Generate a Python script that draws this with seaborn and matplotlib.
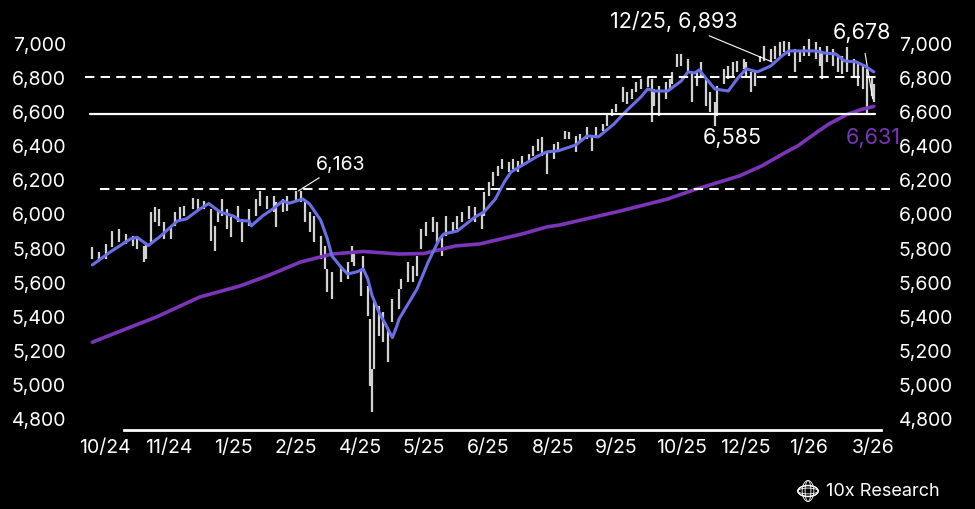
import matplotlib
matplotlib.use("Agg")
import matplotlib.pyplot as plt
import matplotlib.patches as mpatches
import seaborn as sns
import pandas as pd

# trading-day index, daily high / low
bar_day = [1, 4, 7, 10, 13, 16, 19, 21, 24, 25, 27, 29, 31, 33, 36, 38, 40, 42, 46, 48,
           51, 54, 56, 57, 59, 61, 63, 66, 68, 71, 74, 76, 79, 82, 83, 86, 88, 92, 94, 96,
           98, 100, 103, 105, 106, 108, 112, 115, 117, 118, 121, 122, 124, 125, 126, 127, 129, 131, 133, 135,
           138, 139, 142, 144, 146, 148, 150, 153, 155, 157, 159, 162, 164, 166, 169, 172, 175, 176, 178, 180,
           182, 184, 187, 189, 191, 193, 196, 198, 200, 202, 204, 207, 209, 212, 214, 217, 219, 222, 224, 226,
           229, 231, 233, 235, 238, 240, 242, 244, 246, 249, 251, 252, 254, 257, 259, 260, 262, 264, 267, 269,
           271, 273, 275, 277, 279, 280, 283, 285, 287, 289, 292, 293, 295, 297, 299, 301, 304, 306, 308, 310,
           312, 315, 317, 319, 321, 324, 326, 327, 329, 332, 334, 336, 338, 341, 343, 345, 347, 349, 350]
bar_high = [5804, 5774, 5821, 5897, 5909, 5880, 5868, 5850, 5809, 5821, 6009, 6038, 6026, 5950, 5927, 6009, 6038, 6044, 6091, 6085,
            6073, 6026, 5927, 6026, 6085, 6026, 5980, 6044, 5968, 6026, 6085, 6132, 6103, 6103, 6067, 6085, 6103, 6132, 6132, 6067,
            6009, 5985, 5868, 5809, 5674, 5657, 5692, 5715, 5809, 5774, 5674, 5751, 5575, 5381, 5088, 5481, 5458, 5422, 5323, 5499,
            5557, 5616, 5715, 5692, 5751, 5909, 5950, 5980, 5950, 5868, 5985, 5950, 5985, 6009, 6044, 6038, 6009, 6126, 6185, 6243,
            6279, 6320, 6302, 6320, 6308, 6337, 6349, 6396, 6437, 6449, 6361, 6408, 6419, 6484, 6478, 6455, 6466, 6507, 6455, 6507,
            6525, 6584, 6613, 6642, 6742, 6713, 6730, 6771, 6789, 6801, 6789, 6730, 6748, 6771, 6789, 6830, 6935, 6935, 6906, 6830,
            6836, 6889, 6789, 6713, 6654, 6748, 6848, 6865, 6889, 6894, 6906, 6889, 6830, 6836, 6924, 6982, 6965, 6982, 7006, 7012,
            7006, 6965, 6953, 6982, 7023, 7006, 6976, 6947, 6982, 6965, 6924, 6924, 6976, 6906, 6889, 6865, 6848, 6806, 6760]
bar_low = [5733, 5721, 5733, 5804, 5833, 5821, 5809, 5792, 5715, 5733, 5833, 5950, 5927, 5850, 5850, 5927, 5968, 5985, 6026, 6026,
           6026, 5839, 5780, 5950, 5985, 5909, 5862, 5950, 5833, 5927, 5985, 6044, 6026, 6009, 5921, 6009, 6015, 6067, 6067, 5950,
           5891, 5833, 5733, 5674, 5540, 5499, 5598, 5616, 5715, 5692, 5516, 5674, 5399, 4988, 4835, 5088, 5282, 5247, 5129, 5364,
           5440, 5557, 5598, 5598, 5633, 5792, 5868, 5891, 5833, 5751, 5868, 5891, 5909, 5950, 5968, 5950, 5909, 5985, 6103, 6161,
           6220, 6261, 6243, 6261, 6243, 6279, 6308, 6337, 6367, 6337, 6232, 6320, 6361, 6437, 6437, 6361, 6419, 6437, 6367, 6455,
           6484, 6513, 6572, 6595, 6654, 6642, 6672, 6713, 6730, 6742, 6537, 6630, 6572, 6672, 6730, 6760, 6859, 6865, 6836, 6654,
           6748, 6806, 6630, 6595, 6513, 6572, 6760, 6789, 6806, 6830, 6848, 6806, 6713, 6748, 6889, 6894, 6889, 6906, 6924, 6947,
           6924, 6830, 6889, 6924, 6924, 6906, 6865, 6789, 6889, 6865, 6830, 6818, 6830, 6806, 6748, 6730, 6585, 6689, 6654]

# short moving average (blue)
ma_short_day = [1, 9, 18, 21, 26, 31, 39, 43, 49, 53, 58, 64, 67, 71, 72, 77, 82, 86, 89, 95,
                98, 103, 106, 108, 112, 115, 119, 122, 124, 126, 129, 133, 135, 137, 138, 146, 151, 156, 158, 164,
                172, 176, 181, 185, 188, 194, 200, 204, 209, 217, 222, 227, 234, 239, 246, 249, 252, 258, 264, 267,
                270, 272, 276, 279, 285, 289, 293, 298, 304, 309, 312, 318, 324, 328, 333, 337, 342, 346, 350]
ma_short = [5698, 5774, 5850, 5860, 5812, 5862, 5956, 5968, 6026, 6058, 6009, 5985, 5958, 5956, 5927, 5985, 6030, 6073, 6060, 6085,
            6056, 5960, 5850, 5751, 5686, 5645, 5657, 5674, 5616, 5516, 5422, 5323, 5272, 5340, 5381, 5557, 5715, 5850, 5880, 5897,
            5980, 6009, 6085, 6185, 6243, 6290, 6337, 6361, 6367, 6402, 6455, 6449, 6525, 6595, 6683, 6730, 6718, 6718, 6777, 6830,
            6824, 6842, 6777, 6730, 6718, 6789, 6848, 6830, 6865, 6924, 6953, 6953, 6953, 6941, 6935, 6894, 6889, 6865, 6830]

# long moving average (purple)
ma_long_day = [1, 30, 49, 67, 79, 94, 108, 122, 138, 149, 163, 174, 193, 204, 210, 237, 258, 271, 290, 300,
               311, 316, 325, 330, 338, 344, 350]
ma_long = [5245, 5395, 5510, 5575, 5633, 5715, 5762, 5777, 5762, 5765, 5809, 5821, 5880, 5921, 5933, 6015, 6085, 6144, 6220, 6279,
           6361, 6396, 6480, 6525, 6580, 6608, 6628]

tick_days = [6.5, 35, 64, 92, 120.6, 149, 178, 206.7, 235, 264, 292.6, 321, 349.6]
tick_labels = ["10/24", "11/24", "1/25", "2/25", "4/25", "5/25", "6/25", "8/25", "9/25",
               "10/25", "12/25", "1/26", "3/26"]
y_ticks = list(range(4800, 7001, 200))

level_upper = 6800
level_support = 6585
level_feb = 6144

BG = "#000000"
BAR = "#d2d2d2"
BLUE = "#6a6fe6"
PURPLE = "#7a35b8"

sns.set_theme(style="dark")
plt.rcParams["font.family"] = ["Inter", "DejaVu Sans"]

fig = plt.figure(figsize=(9.75, 5.1), dpi=100, facecolor=BG)
ax = fig.add_axes([80 / 975, 1 - 431 / 510, 805 / 975, 413 / 510])
ax.set_facecolor(BG)

bars = pd.DataFrame({"day": bar_day, "high": bar_high, "low": bar_low})
ax.vlines(bars["day"], bars["low"], bars["high"], color=BAR, lw=1.6, zorder=2)

short = pd.DataFrame({"day": ma_short_day, "val": ma_short})
long_ = pd.DataFrame({"day": ma_long_day, "val": ma_long})
sns.lineplot(data=short, x="day", y="val", color=BLUE, lw=2.2, ax=ax, zorder=4)
sns.lineplot(data=long_, x="day", y="val", color=PURPLE, lw=2.6, ax=ax, zorder=3)

ax.axhline(level_upper, xmin=0.006, xmax=0.991, color="white", lw=1.5, ls=(0, (4.5, 3)), zorder=5)
ax.axhline(level_support, xmin=0.012, xmax=0.988, color="white", lw=1.6, zorder=5)
ax.axhline(level_feb, xmin=0.025, xmax=1.006, color="white", lw=1.5, ls=(0, (4.5, 3)), zorder=5, clip_on=False)

ax.set_xlim(-4.5, 355)
ax.set_ylim(4730, 7152)
ax.set_xticks(tick_days)
ax.set_xticklabels(tick_labels)
ax.set_yticks(y_ticks)
ax.set_yticklabels([f"{v:,}" for v in y_ticks])
ax.set_xlabel("")
ax.set_ylabel("")
ax.grid(False)
ax.tick_params(axis="x", length=0, pad=6, labelsize=14, colors="white")
ax.tick_params(axis="y", length=0, labelsize=14, colors="white",
               left=False, right=False, labelleft=True, labelright=True, pad=10)
for s in ["top", "left", "right"]:
    ax.spines[s].set_visible(False)
ax.spines["bottom"].set_color("white")
ax.spines["bottom"].set_linewidth(2)
ax.spines["bottom"].set_bounds(15, 353)

# annotations
ax.annotate("6,163", xy=(93, 6132), xytext=(101, 6290), color="white", fontsize=14,
            ha="left", va="center",
            arrowprops=dict(arrowstyle="-", color="white", lw=0.8, shrinkA=2, shrinkB=0))
ax.annotate("12/25, 6,893", xy=(304.5, 6889), xytext=(289, 7129), color="white", fontsize=15.5,
            ha="right", va="center",
            arrowprops=dict(arrowstyle="-", color="white", lw=0.8, shrinkA=2, shrinkB=0))
ax.annotate("6,678", xy=(349.5, 6672), xytext=(344.5, 7065), color="white", fontsize=15.5,
            ha="center", va="center", annotation_clip=False,
            arrowprops=dict(arrowstyle="-", color="white", lw=0.8, shrinkA=6, shrinkB=0))
ax.text(287, 6449, "6,585", color="white", fontsize=15.5, ha="center", va="center")
ax.text(349.6, 6449, "6,631", color=PURPLE, fontsize=15.5, ha="center", va="center")

# watermark
logo = mpatches.Circle((808 / 975, 1 - 492 / 510), 0.0105, transform=fig.transFigure,
                       fill=False, ec="white", lw=0.9)
fig.patches.append(logo)
for w in [0.006, 0.012]:
    fig.patches.append(mpatches.Ellipse((808 / 975, 1 - 492 / 510), w, 0.041,
                                        transform=fig.transFigure, fill=False, ec="white", lw=0.6))
    fig.patches.append(mpatches.Ellipse((808 / 975, 1 - 492 / 510), 0.021, w * 1.9,
                                        transform=fig.transFigure, fill=False, ec="white", lw=0.6))
fig.text(826 / 975, 1 - 492 / 510, "10x Research", color="white", fontsize=13,
         ha="left", va="center")

fig.savefig("out.png", dpi=100, facecolor=BG)
